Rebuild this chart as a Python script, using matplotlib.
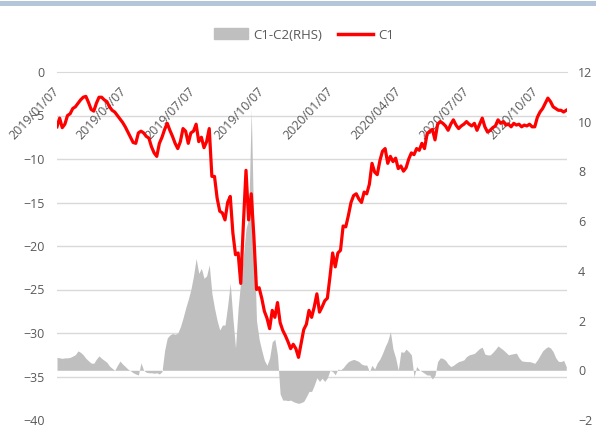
import matplotlib
matplotlib.use("Agg")
import matplotlib.pyplot as plt
from matplotlib.patches import Rectangle
from matplotlib.lines import Line2D
import pandas as pd

# twice-weekly readings from 2019-01-07
dates = pd.date_range("2019-01-07", periods=195, freq="84h")

# C1 (left axis)
c1 = [-6.3, -5.3, -6.4, -6.0, -5.0, -4.8, -4.2, -4.0, -3.6, -3.2,
      -2.9, -2.8, -3.5, -4.3, -4.5, -3.6, -2.9, -2.9, -3.2, -3.4,
      -4.0, -4.4, -4.6, -5.0, -5.4, -5.8, -6.3, -6.9, -7.5, -8.1,
      -8.2, -7.0, -6.8, -7.0, -7.4, -7.6, -8.6, -9.3, -9.7, -8.2,
      -7.5, -6.6, -5.9, -6.7, -7.4, -8.2, -8.8, -8.0, -6.5, -6.8,
      -8.2, -7.0, -6.8, -6.0, -8.0, -7.5, -8.7, -8.0, -6.5, -12.0,
      -12.0, -14.5, -16.0, -16.2, -17.0, -15.0, -14.3, -18.5, -21.0, -20.8,
      -24.3, -17.5, -11.3, -17.0, -14.0, -18.9, -25.0, -24.8, -26.0, -27.5,
      -28.3, -29.5, -27.4, -28.2, -26.5, -28.8, -29.7, -30.3, -31.0, -31.8,
      -31.3, -31.8, -32.8, -31.2, -29.6, -29.0, -27.4, -28.2, -27.0, -25.5,
      -27.6, -27.0, -26.3, -26.0, -23.5, -20.8, -22.4, -20.8, -20.5, -17.7,
      -17.8, -16.5, -15.0, -14.2, -14.0, -14.6, -15.0, -13.8, -14.0, -12.9,
      -10.5, -11.5, -11.8, -10.2, -9.1, -8.8, -10.5, -9.7, -10.3, -9.9,
      -11.1, -10.8, -11.4, -11.0, -10.0, -9.3, -9.5, -8.8, -9.0, -8.2,
      -8.8, -7.1, -6.8, -6.6, -7.8, -6.0, -5.7, -5.9, -6.2, -6.7,
      -6.0, -5.5, -6.1, -6.5, -6.2, -6.0, -5.7, -6.0, -6.2, -5.9,
      -6.7, -6.0, -5.3, -6.3, -6.9, -6.7, -6.4, -6.2, -5.5, -5.9,
      -5.7, -6.1, -6.0, -6.3, -5.9, -6.1, -6.0, -6.3, -6.1, -6.2,
      -6.0, -6.3, -6.3, -5.2, -4.6, -4.2, -3.6, -3.0, -3.4, -4.0,
      -4.2, -4.4, -4.4, -4.6, -4.4]

# C1-C2 (right axis)
spread = [0.52, 0.50, 0.48, 0.50, 0.50, 0.52, 0.57, 0.63, 0.78, 0.72,
          0.62, 0.48, 0.38, 0.29, 0.28, 0.45, 0.58, 0.48, 0.40, 0.32,
          0.17, 0.08, 0.0, 0.2, 0.37, 0.25, 0.15, 0.05, -0.02, -0.1,
          -0.15, -0.19, 0.3, 0.0, -0.08, -0.1, -0.1, -0.12, -0.1, -0.15,
          -0.05, 0.8, 1.3, 1.42, 1.48, 1.45, 1.5, 1.75, 2.1, 2.5,
          2.85, 3.25, 3.8, 4.5, 3.9, 4.1, 3.7, 3.8, 4.24, 3.1,
          2.5, 2.0, 1.62, 1.82, 1.82, 2.6, 3.5, 2.1, 0.9, 2.5,
          3.6, 4.6, 5.7, 6.1, 10.5, 5.5, 2.0, 1.25, 0.8, 0.4,
          0.2, 0.5, 1.15, 1.25, 0.6, -0.95, -1.2, -1.2, -1.22, -1.2,
          -1.26, -1.3, -1.33, -1.3, -1.25, -1.06, -0.85, -0.85, -0.6, -0.3,
          -0.45, -0.32, -0.45, -0.3, 0.0, -0.05, -0.18, 0.05, 0.02, 0.1,
          0.24, 0.35, 0.4, 0.44, 0.4, 0.35, 0.25, 0.21, 0.21, -0.05,
          0.2, 0.05, 0.3, 0.45, 0.68, 0.95, 1.18, 1.55, 0.85, 0.5,
          0.0, 0.75, 0.72, 0.85, 0.75, 0.62, -0.26, 0.15, 0.02, -0.05,
          -0.12, -0.19, -0.19, -0.35, -0.2, 0.35, 0.5, 0.48, 0.4, 0.25,
          0.15, 0.2, 0.28, 0.35, 0.38, 0.42, 0.55, 0.62, 0.65, 0.68,
          0.78, 0.88, 0.93, 0.65, 0.62, 0.62, 0.72, 0.84, 0.98, 0.9,
          0.82, 0.72, 0.62, 0.65, 0.67, 0.69, 0.5, 0.38, 0.36, 0.35,
          0.35, 0.32, 0.28, 0.42, 0.6, 0.78, 0.88, 0.95, 0.9, 0.75,
          0.5, 0.36, 0.35, 0.4, 0.15]

tick_dates = pd.to_datetime(["2019-01-07", "2019-04-07", "2019-07-07", "2019-10-07",
                             "2020-01-07", "2020-04-07", "2020-07-07", "2020-10-07"])
tick_labels = [d.strftime("%Y/%m/%d") for d in tick_dates]

plt.rcParams["font.family"] = ["Open Sans", "DejaVu Sans"]
txt = "#595959"
grid_c = "#d9d9d9"

fig = plt.figure(figsize=(5.96, 4.34), dpi=100)
ax = fig.add_axes([57/596, 1-420/434, 510/596, 348/434])
ax2 = ax.twinx()

# gray area on the right axis, underneath
for k in range(1, 8):
    ax2.plot([0, 1], [k/8, k/8], transform=ax2.transAxes, color=grid_c, lw=1, zorder=0)
ax2.fill_between(dates, 0, spread, color="#bfbfbf", lw=0, zorder=1)
ax2.set_ylim(-2, 12)
ax2.set_yticks(range(-2, 13, 2))

# red line on the left axis, on top
ax.set_zorder(ax2.get_zorder() + 1)
ax.patch.set_visible(False)
ax.plot(dates, c1, color="#ff0000", lw=2.3, solid_joinstyle="round")
ax.set_ylim(-40, 0)
ax.set_yticks(range(-40, 1, 5))
ax.set_xlim(pd.Timestamp("2019-01-07"), pd.Timestamp("2020-11-17"))

# x axis crosses at 0 (top of the plot), labels hang below it
ax.spines["bottom"].set_position(("data", 0))
ax.spines["bottom"].set_color(grid_c)
ax.set_xticks(tick_dates)
ax.set_xticklabels(tick_labels, rotation=47, ha="right", va="center",
                   rotation_mode="anchor")

for a in (ax, ax2):
    for s in ("top", "left", "right"):
        a.spines[s].set_visible(False)
    a.tick_params(length=0, labelcolor=txt, labelsize=9)
ax2.spines["bottom"].set_visible(False)
ax.tick_params(axis="y", pad=9)
ax2.tick_params(axis="y", pad=8)
ax.tick_params(axis="x", pad=12)

handles = [Rectangle((0, 0), 1, 1, color="#bfbfbf"),
           Line2D([], [], color="#ff0000", lw=2.5)]
fig.legend(handles, ["C1-C2(RHS)", "C1"], loc="center", bbox_to_anchor=(0.51, 1-35/434),
           ncol=2, frameon=False, fontsize=9.5, labelcolor=txt,
           handlelength=2.6, handleheight=0.9, columnspacing=1.2, handletextpad=0.4)

fig.add_artist(Rectangle((0, 1-6/434), 1, 4.5/434, transform=fig.transFigure,
                         color="#b3c6d9", lw=0))

fig.savefig("out.png", dpi=100)
